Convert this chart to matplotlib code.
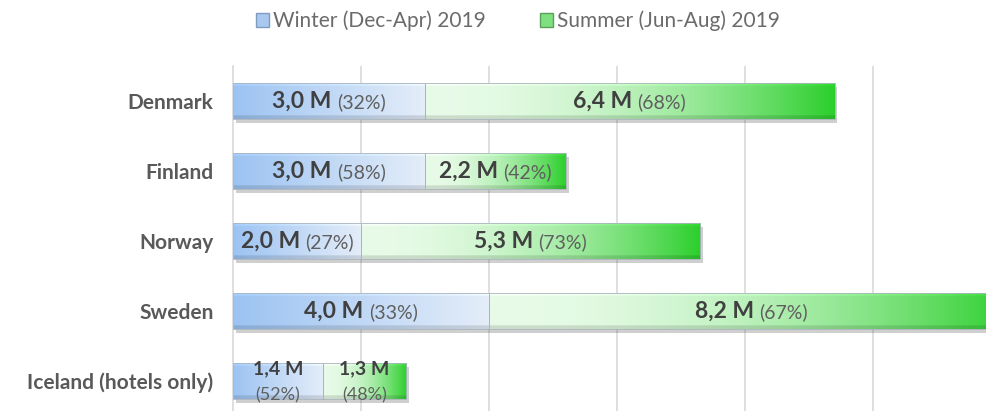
import matplotlib
matplotlib.use("Agg")
import matplotlib.pyplot as plt
import matplotlib.patches as mpatches
import matplotlib.patheffects as pe
from matplotlib.transforms import offset_copy
from matplotlib.colors import to_rgb
import numpy as np

# data (millions of guest nights)
countries = ["Denmark", "Finland", "Norway", "Sweden", "Iceland (hotels only)"]
winter = [3.0, 3.0, 2.0, 4.0, 1.4]
summer = [6.4, 2.2, 5.3, 8.2, 1.3]
winter_pct = [32, 58, 27, 33, 52]
summer_pct = [68, 42, 73, 67, 48]
series_names = ["Winter (Dec-Apr) 2019", "Summer (Jun-Aug) 2019"]

plt.rcParams["font.family"] = ["Lato", "DejaVu Sans"]

fig = plt.figure(figsize=(9.86, 4.11), dpi=100)
ax = fig.add_axes([233 / 986, 0, 753 / 986, 1 - 66 / 411])

y = np.arange(len(countries))
h = 0.52


def grad_img(c0, c1, power=1.0, n=200, m=40):
    c0 = np.array(to_rgb(c0))
    c1 = np.array(to_rgb(c1))
    t = np.linspace(0, 1, n) ** power
    row = c0[None, :] * (1 - t[:, None]) + c1[None, :] * t[:, None]
    img = np.repeat(row[None, :, :], m, axis=0)
    # bevel: light top edge, darker bottom edge
    v = np.linspace(0, 1, m)
    shade = np.ones(m)
    shade[v < 0.1] = 1.06
    shade[v > 0.9] = 0.88
    img = np.clip(img * shade[:, None, None], 0, 1)
    return img


def draw_bars(left, width, c0, c1, power):
    # white base with drop shadow
    base = ax.barh(y, width, left=left, height=h, facecolor="white",
                   edgecolor="none", zorder=2)
    for b in base:
        b.set_path_effects([pe.SimplePatchShadow(offset=(2, -3), alpha=0.3,
                                                 shadow_rgbFace="#606060"),
                            pe.Normal()])
    for b, l, w in zip(base, left, width):
        im = ax.imshow(grad_img(c0, c1, power),
                       extent=(l, l + w, b.get_y() + h, b.get_y()),
                       aspect="auto", zorder=2.5, interpolation="bilinear")
        im.set_clip_path(b)
    ax.barh(y, width, left=left, height=h, facecolor="none",
            edgecolor="#aab4be", linewidth=0.6, zorder=3)


left0 = [0] * len(countries)
draw_bars(left0, winter, "#9cc3f2", "#e4edf9", 1.0)
draw_bars(winter, summer, "#e8fbe8", "#2ccf2c", 2.0)

ax.set_xlim(0, 753 / 64)
ax.set_ylim(4.43, -0.5)
ax.set_xticks(np.arange(2, 12, 2))
ax.xaxis.grid(True, color="#d9d9d9", linewidth=1.2)
ax.set_axisbelow(True)
ax.tick_params(axis="x", length=0, labelbottom=False)
ax.tick_params(axis="y", length=0, pad=14)
ax.set_yticks(y)
ax.set_yticklabels(countries, fontsize=15, fontweight="bold", color="#595959")
for s in ["top", "right", "bottom"]:
    ax.spines[s].set_visible(False)
ax.spines["left"].set_color("#d9d9d9")
ax.spines["left"].set_linewidth(1.2)

fig.canvas.draw()
renderer = fig.canvas.get_renderer()


def two_part(xc, yc, big, small):
    t1 = ax.text(xc, yc, big, ha="left", va="center", fontsize=16.5,
                 fontweight="bold", color="#404040", zorder=5)
    t2 = ax.text(xc, yc, small, ha="left", va="center", fontsize=14,
                 color="#5f5f5f", zorder=5)
    w1 = t1.get_window_extent(renderer).width
    w2 = t2.get_window_extent(renderer).width
    gap = 5
    total = w1 + gap + w2
    t1.set_transform(offset_copy(ax.transData, fig=fig, x=-total / 2, y=0, units="dots"))
    t2.set_transform(offset_copy(ax.transData, fig=fig, x=-total / 2 + w1 + gap, y=-1,
                                 units="dots"))


def fmt(v):
    return f"{v:.1f} M".replace(".", ",")


for i in range(len(countries)):
    if i < len(countries) - 1:
        two_part(winter[i] / 2, y[i], fmt(winter[i]), f"({winter_pct[i]}%)")
        two_part(winter[i] + summer[i] / 2, y[i], fmt(summer[i]), f"({summer_pct[i]}%)")
    else:
        for xc, v, p in [(winter[i] / 2, winter[i], winter_pct[i]),
                         (winter[i] + summer[i] / 2, summer[i], summer_pct[i])]:
            ax.text(xc, y[i] - 0.17, fmt(v), ha="center", va="center", fontsize=14,
                    fontweight="bold", color="#404040", zorder=5)
            ax.text(xc, y[i] + 0.21, f"({p}%)", ha="center", va="center", fontsize=13,
                    color="#5f5f5f", zorder=5)

handles = [mpatches.Patch(facecolor="#a9c8f0", edgecolor="#7f9cc0", label=series_names[0]),
           mpatches.Patch(facecolor="#7ee07e", edgecolor="#5aa05a", label=series_names[1])]
leg = fig.legend(handles=handles, loc="center", bbox_to_anchor=(518 / 986, 1 - 21 / 411),
                 ncol=2, frameon=False, fontsize=15, handlelength=0.6, handleheight=0.6,
                 handletextpad=0.2, columnspacing=2.6)
for t in leg.get_texts():
    t.set_color("#6b6b6b")

fig.savefig("out.png", dpi=100)
